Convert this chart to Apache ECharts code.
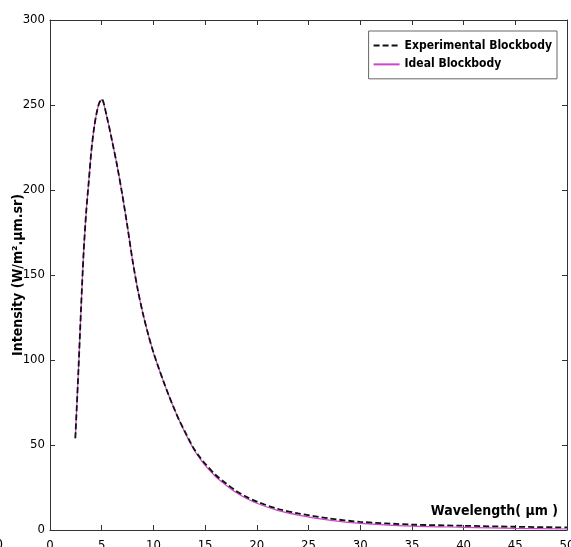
<!DOCTYPE html>
<html>
<head>
    <title>Blackbody Intensity</title>
    <script src="https://cdn.jsdelivr.net/npm/echarts@6/dist/echarts.min.js"></script>
</head>
<body style="margin:0">
    <div id="chart" style="width: 571px; height: 547px;"></div>
    <script>
        // wavelength (um) and intensity values
        var wavelength = [2.45, 2.75, 3, 3.25, 3.5, 3.75, 4, 4.25, 4.5, 4.75, 5, 5.5, 6, 6.5, 7, 7.5, 8, 8.5, 9, 9.5, 10, 10.5, 11, 11.5, 12, 12.5, 13, 13.5, 14, 14.5, 15, 16, 17, 18, 19, 20, 22, 24, 27, 30, 35, 40, 45, 50];
        var ideal = [54, 94, 130, 163, 187, 205, 223, 236, 245, 251, 253, 243, 229, 214, 197, 178, 158, 141, 127, 115, 104.5, 95.5, 87, 79, 71.5, 64.5, 58, 52, 46.5, 42, 38, 31.5, 26.5, 22, 18.5, 15.7, 11.5, 8.8, 5.8, 3.9, 2.3, 1.6, 1.0, 0.6];
        var experimental = [54, 94, 130, 163, 187, 205, 223, 236, 245, 251, 253.5, 243, 229, 214, 197, 178, 158, 141, 127, 115, 104.5, 95.5, 87, 79, 71.5, 64.5, 58.5, 52.5, 47, 42.8, 39, 32.5, 27.5, 23, 19.5, 16.7, 12.5, 9.8, 6.8, 4.8, 3.2, 2.5, 1.9, 1.5];

        var xTicks = [0, 50, 5];     // min, max, step
        var yTicks = [0, 300, 50];

        var font = '"DejaVu Sans Condensed", "Liberation Sans Narrow", "Liberation Sans", Arial, sans-serif';
        var chart = echarts.init(document.querySelector("#chart"));

        function pairs(ys) {
            return wavelength.map(function (x, i) { return [x, ys[i]]; });
        }

        var axisCommon = {
            type: 'value',
            axisLine: { show: true, onZero: false, lineStyle: { color: '#333', width: 1 } },
            axisTick: { show: true, inside: true, length: 5, lineStyle: { color: '#333' } },
            splitLine: { show: false }
        };

        var option = {
            animation: false,
            backgroundColor: '#fff',
            grid: { left: 50, right: 4, top: 20, bottom: 17, containLabel: false, outerBoundsMode: 'none' },
            legend: {
                right: 14, top: 31,
                orient: 'vertical',
                backgroundColor: '#fff',
                borderColor: '#666', borderWidth: 1,
                padding: [3, 5, 3, 4],
                itemGap: -4,
                itemWidth: 26, itemHeight: 12,
                itemStyle: { opacity: 0 },
                textStyle: { fontFamily: font, fontSize: 12, lineHeight: 14, fontWeight: 'bold', color: '#000' },
                data: ['Experimental Blockbody', 'Ideal Blockbody']
            },
            xAxis: [
                Object.assign({}, axisCommon, {
                    min: xTicks[0], max: xTicks[1], interval: xTicks[2],
                    position: 'bottom',
                    axisLabel: { margin: 4, fontFamily: font, fontSize: 13, color: '#000' }
                }),
                Object.assign({}, axisCommon, {
                    min: xTicks[0], max: xTicks[1], interval: xTicks[2],
                    position: 'top',
                    axisLabel: { show: false }
                })
            ],
            yAxis: [
                Object.assign({}, axisCommon, {
                    min: yTicks[0], max: yTicks[1], interval: yTicks[2],
                    position: 'left',
                    name: 'Intensity (W/m\u00B2.\u00B5m.sr)',
                    nameLocation: 'middle',
                    nameGap: 18,
                    nameMoveOverlap: false,
                    nameTextStyle: { fontFamily: font, fontSize: 14, fontWeight: 'bold', color: '#000' },
                    axisLabel: { margin: 5, fontFamily: font, fontSize: 13, color: '#000' }
                }),
                Object.assign({}, axisCommon, {
                    min: yTicks[0], max: yTicks[1], interval: yTicks[2],
                    position: 'right',
                    axisLabel: { show: false }
                })
            ],
            graphic: [
                {
                    type: 'text', right: 13, top: 498,
                    style: { text: 'Wavelength( \u00B5m )', font: 'bold 14px ' + font, fill: '#000' }
                },
                {
                    type: 'text', left: -5, top: 533,
                    style: { text: '0', font: '14px ' + font, fill: '#000' }
                }
            ],
            series: [
                {
                    name: 'Ideal Blockbody',
                    type: 'line',
                    smooth: 0.3,
                    symbol: 'none',
                    z: 2,
                    color: '#cc44cc',
                    lineStyle: { color: '#cc44cc', width: 1.2 },
                    data: pairs(ideal)
                },
                {
                    name: 'Experimental Blockbody',
                    type: 'line',
                    smooth: 0.3,
                    symbol: 'none',
                    z: 3,
                    color: '#000',
                    lineStyle: { color: '#111', width: 1.8, type: [6, 3] },
                    data: pairs(experimental)
                }
            ]
        };
        chart.setOption(option);
    </script>
</body>
</html>
